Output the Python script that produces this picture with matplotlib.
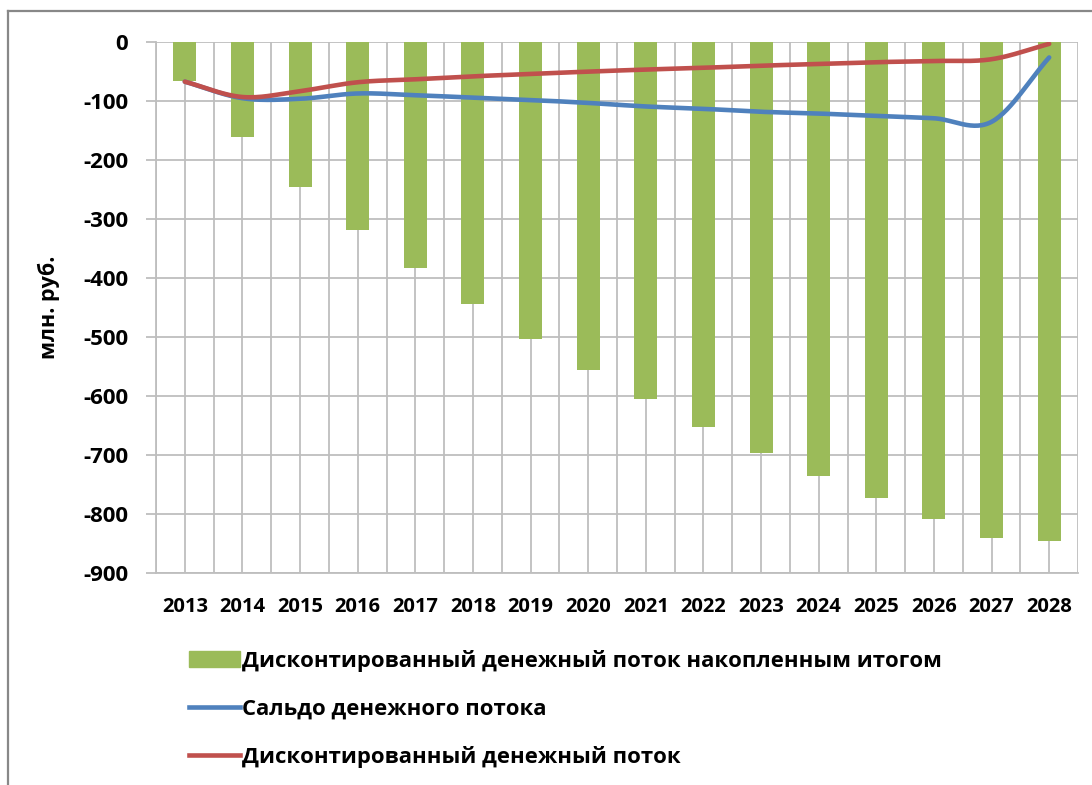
import matplotlib.pyplot as plt
import numpy as np
from matplotlib.lines import Line2D
from matplotlib.patches import Patch

plt.rcParams['font.family'] = ['Open Sans', 'DejaVu Sans']
plt.rcParams['font.weight'] = 'bold'
plt.rcParams['axes.unicode_minus'] = False

years = [str(y) for y in range(2013, 2029)]
# cumulative discounted cash flow (bars)
cum_dcf = [-67, -161, -247, -319, -384, -445, -504, -557, -606, -653,
           -697, -736, -773, -808, -840, -845]
# cash flow balance (blue)
balance = [-68, -96, -97, -88, -91, -95, -99, -104, -110, -114,
           -119, -122, -126, -130, -136, -27]
# discounted cash flow (red)
dcf = [-68, -94, -84, -69, -64, -59, -55, -51, -47.5, -44.5,
       -41, -38, -35, -33, -30, -4]

labels = ['Дисконтированный денежный поток накопленным итогом',
          'Сальдо денежного потока',
          'Дисконтированный денежный поток']

green = '#9BBB59'
blue = '#4F81BD'
red = '#C0504D'
grid_c = '#BEBEBE'


def smooth(y, n=30):
    # catmull-rom, like excel "smoothed line"
    y = np.asarray(y, float)
    x = np.arange(len(y), dtype=float)
    xs, ys = [], []
    for i in range(len(y) - 1):
        p0 = y[i - 1] if i > 0 else y[i]
        p3 = y[i + 2] if i + 2 < len(y) else y[i + 1]
        m0 = (y[i + 1] - p0) / (2 if i > 0 else 1)
        m1 = (p3 - y[i]) / (2 if i + 2 < len(y) else 1)
        t = np.linspace(0, 1, n, endpoint=False)
        h00 = 2*t**3 - 3*t**2 + 1
        h10 = t**3 - 2*t**2 + t
        h01 = -2*t**3 + 3*t**2
        h11 = t**3 - t**2
        xs.append(x[i] + t)
        ys.append(h00*y[i] + h10*m0 + h01*y[i + 1] + h11*m1)
    xs.append([x[-1]])
    ys.append([y[-1]])
    return np.concatenate(xs), np.concatenate(ys)


fig = plt.figure(figsize=(10.92, 7.85), dpi=100)
ax = fig.add_axes([156/1092, 1 - 573/785, (1078-156)/1092, (573-41.5)/785])

x = np.arange(len(years))
ax.bar(x, cum_dcf, width=0.4, color=green, zorder=2)
bx, by = smooth(balance)
ax.plot(bx, by, color=blue, lw=3.3, zorder=3, solid_capstyle='round')
rx, ry = smooth(dcf)
ax.plot(rx, ry, color=red, lw=3.3, zorder=4, solid_capstyle='round')

ax.set_xlim(-0.5, len(years) - 0.5)
ax.set_ylim(-900, 0)
ax.set_yticks(np.arange(-900, 1, 100))
ax.set_xticks(x)
ax.set_xticklabels(years)

for v in np.arange(-0.5, len(years), 0.5):
    ax.axvline(v, color=grid_c, lw=1.3, zorder=1)
ax.yaxis.grid(True, color=grid_c, lw=1.3, zorder=1)
ax.set_axisbelow(True)

for s in ['top', 'right']:
    ax.spines[s].set_visible(False)
ax.spines['left'].set_color(grid_c)
ax.spines['bottom'].set_color(grid_c)
ax.spines['left'].set_linewidth(1.3)
ax.spines['bottom'].set_linewidth(1.3)

ax.tick_params(axis='y', length=7, color=grid_c, width=1.3, labelsize=16, pad=13)
ax.tick_params(axis='x', length=0, labelsize=14.5, pad=17)

ax.set_ylabel('млн. руб.', fontsize=15.5, fontweight='bold')
ax.yaxis.set_label_coords(-96/922, 0.5)

handles = [Patch(color=green),
           Line2D([], [], color=blue, lw=3.3),
           Line2D([], [], color=red, lw=3.3)]
fig.legend(handles, labels, loc='upper left', bbox_to_anchor=(180/1092, 1 - 641/785),
           frameon=False, fontsize=15.9, handlelength=2.3, handleheight=0.7,
           handletextpad=0.12, labelspacing=1.2, borderaxespad=0)

# outer frame (top and left edges visible)
fig.add_artist(Line2D([8/1092, 1], [1 - 11/785, 1 - 11/785], color='#888888', lw=1.6))
fig.add_artist(Line2D([8/1092, 8/1092], [0, 1 - 11/785], color='#888888', lw=1.6))

fig.savefig('out.png', dpi=100)
